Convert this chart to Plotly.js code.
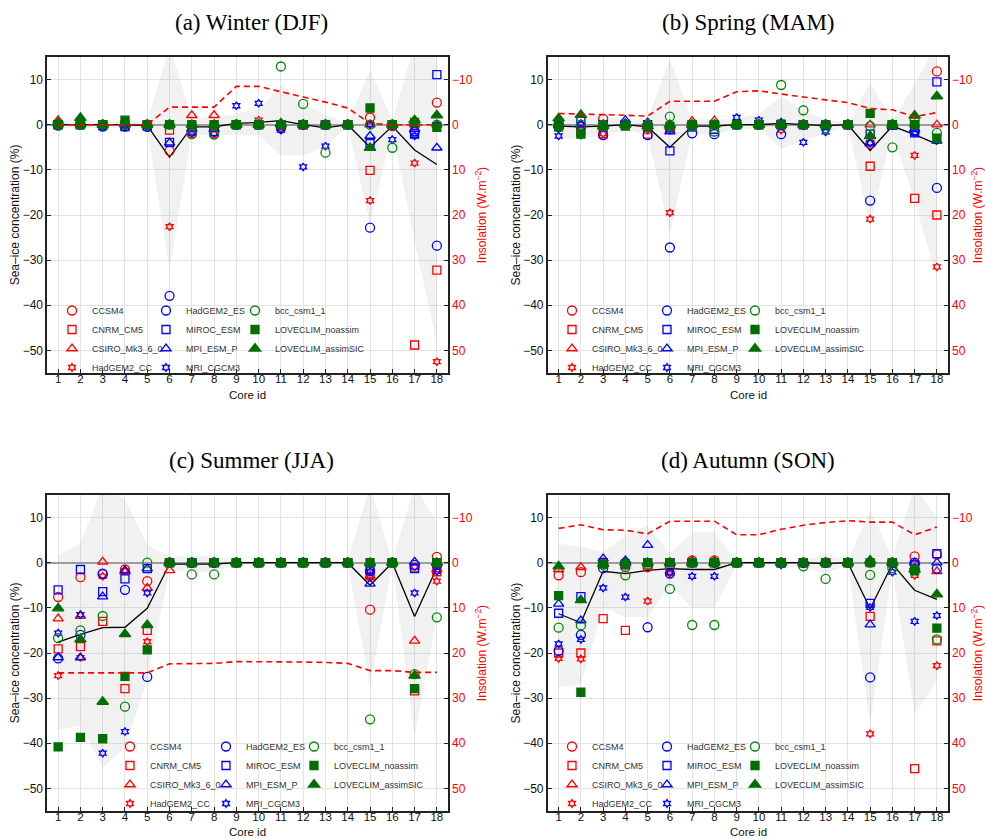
<!DOCTYPE html>
<html><head><meta charset="utf-8">
<script src="https://cdn.plot.ly/plotly-3.0.1.min.js"></script>
<style>html,body{margin:0;padding:0;background:#fff}#chart{width:985px;height:839px}</style>
</head><body><div id="chart"></div>
<script>
// ---------------- DATA ----------------
const coreIds = [1,2,3,4,5,6,7,8,9,10,11,12,13,14,15,16,17,18];
const modelNames = ["CCSM4","CNRM_CM5","CSIRO_Mk3_6_0","HadGEM2_CC","HadGEM2_ES","MIROC_ESM","MPI_ESM_P","MRI_CGCM3","bcc_csm1_1","LOVECLIM_noassim","LOVECLIM_assimSIC"];
const seasonTitles = ["(a) Winter (DJF)","(b) Spring (MAM)","(c) Summer (JJA)","(d) Autumn (SON)"];
const xTitle = "Core id";
const leftTicks = [-50,-40,-30,-20,-10,0,10];
const rightTicks = [-10,0,10,20,30,40,50];

// Winter (DJF) sea-ice concentration change (%)
const DJF_CCSM4      = [0,0,0,0,0,-5.8,-2,-2,0,0,0,0,0,0,1.6,-0.3,0,4.9];
const DJF_CNRM_CM5   = [0,0,0,0,0,-1.2,-0.5,-0.5,0,0,0,0,0,0,-10.1,0,-48.8,-32.2];
const DJF_CSIRO      = [1.0,0,0,0,0,0,2.1,2.1,0,0,0,0,0,0,0,0,0,0];
const DJF_HadGEM2_CC = [0,0,0,-0.3,0,-22.6,-2,-2,0,1.0,-0.8,0,0,0,-16.8,0,-8.5,-52.5];
const DJF_HadGEM2_ES = [-0.2,0,-0.4,-0.4,-0.5,-37.9,-1.5,-1.5,0,0,-0.8,0,0,0,-22.8,0,-1.5,-26.8];
const DJF_MIROC      = [0,0,-0.2,-0.4,-0.3,-3.9,-1.2,-1.5,0,0,0,0,0,0,-4.2,0,-2,11.1];
const DJF_MPI        = [0,0,0,0,0,-4,-1,-1,0,0,0,0,0,0,-2.5,0,-1,-5.1];
const DJF_MRI        = [0,0,0,-0.3,0,0,0,0,4.2,4.75,-1.2,-9.35,-4.75,0,0,-3.3,-2.5,0];
const DJF_bcc        = [0,0,0,0,0,0,-2.1,-2.2,0,0,12.9,4.6,-6.2,0,0,-5.1,0.5,0];
const DJF_LOVE_no    = [0,0,0,1.0,0,0,0,0,0,0,0,0,0,0,3.7,0,0.5,-0.6];
const DJF_LOVE_as    = [0.5,1.5,0,0.3,0,0,0,0,0,0,0.3,0,0,0,-5.1,0,1.0,2.1];
const DJF_mean       = [0,0,0,0,-0.2,-7.2,-0.5,-0.5,0.3,0.5,0.9,0,-0.7,0,-5,-0.3,-5.6,-8.8];
const DJF_upper      = [0.8,1.2,0.5,1,0.5,17.6,1.5,1.5,2.5,3.3,8.8,5,2.2,0.3,12,1,18,19];
const DJF_lower      = [-0.8,-0.8,-0.7,-0.8,-0.8,-32,-2.2,-2.3,-2.2,-2.3,-6.8,-6.8,-4.9,-0.3,-21.8,-1.5,-26,-48.3];
const DJF_insol      = [0,0,0,0,0,-3.9,-3.9,-3.9,-8.5,-8.5,-7.3,-6.2,-5,-3.7,-0.3,0,0,0];

// Spring (MAM)
const MAM_CCSM4      = [-0.5,-0.5,1.3,0,-1,-1,0,0,0,0,0,0,0,0,-4.2,0,0,11.8];
const MAM_CNRM_CM5   = [0,-1.5,-2,0,-2.1,-1,0,0,0,0,0,0,0,0,-9.2,0,-16.3,-20];
const MAM_CSIRO      = [0.5,0,0,0,0,-0.5,0.8,0.9,0,0,0,0,0,0,0,0,0,0];
const MAM_HadGEM2_CC = [0,-1,-2,0,-1,-19.5,0,0,0,0,-1.2,0,0,0,-20.9,0,-6.8,-31.5];
const MAM_HadGEM2_ES = [-0.5,-0.3,-2.3,0,-2.3,-27.2,-1.9,-2.1,0,0,-2.1,0,0,0,-16.8,0,-1.5,-14];
const MAM_MIROC      = [0,0.8,0,0,0,-5.8,-0.5,-1,0,0,0,0,0,0,-2.1,0,-1.8,9.5];
const MAM_MPI        = [0,0,0,1.0,0.5,-1.5,0,0,0,0,0.3,0,0,0,-4.2,-0.5,-1,-3.6];
const MAM_MRI        = [-2.5,-2.3,-0.5,0.5,0,-1,0,0,1.6,1.0,0.6,-3.9,-1.6,0,-4,0,-1.8,-3.5];
const MAM_bcc        = [0,0,0,0,0,1.8,-0.5,-1.5,0,0,8.8,3.2,-0.8,0,-0.3,-5,1,-1.8];
const MAM_LOVE_no    = [-0.5,-2.1,-0.3,-0.3,-0.5,-0.3,0,0,0,0,0,0,0,0,2.5,0,0,-3];
const MAM_LOVE_as    = [1.4,2.2,-0.3,0,-0.3,0,0,0,0,0,0,0,0,0,-2.5,0,2.0,6.3];
const MAM_mean       = [-0.3,-0.5,-0.3,0,-0.5,-5,-0.3,-0.3,0,0,0.3,0,-0.2,0,-5.7,-0.3,-2.2,-4.3];
const MAM_upper      = [1.5,2.5,1.8,1.2,1.2,14.5,1.2,1.2,1.2,2.5,6.2,3,1.2,0.3,9.2,1,9,18];
const MAM_lower      = [-3,-3,-2.5,-1,-2.5,-24,-2,-2.2,-0.8,-1,-5.3,-3.5,-1.8,-0.3,-22.5,-1.5,-17,-34];
const MAM_insol      = [-2.5,-2.4,-2.2,-2.1,-1.9,-5.2,-5.2,-5.2,-7.3,-7.5,-6.8,-6.1,-5.5,-4.9,-3.6,-3.3,-1.8,-2.7];

// Summer (JJA)
const JJA_CCSM4      = [-7.6,-3.2,-2.6,-1.5,-4.1,0,0,0,0,0,0,0,0,0,-10.4,0,-1.1,1.3];
const JJA_CNRM_CM5   = [-19.1,-18.6,-13,-27.9,-15,0,0,0,0,0,0,0,0,0,-2.5,0,-28.4,-2];
const JJA_CSIRO      = [-12.4,-11.8,0.2,-2,-5.6,-1.7,0,0,0,0,0,0,0,0,-3,0,-17.3,-1.5];
const JJA_HadGEM2_CC = [-25,-21,-3,-1.8,-17.5,0,0,0,0,0,0,0,0,0,-3.3,0,-1,-4.1];
const JJA_HadGEM2_ES = [-21.2,-16,-2.4,-6,-25.3,0,0,0,0,0,0,0,0,0,-1.9,0,-0.5,-0.5];
const JJA_MIROC      = [-6,-1.5,-6.4,-3.6,-1.3,0,0,0,0,0,0,0,0,0,-1.5,0,-1.3,0];
const JJA_MPI        = [-21,-21,-7.5,-1.7,-1.3,0,0,0,0,0,0,0,0,0,-4.7,0,0.2,0];
const JJA_MRI        = [-15.6,-11.5,-42.2,-37.4,-6.7,0,0,0,0,0,0,0,0,0,-1.9,0,-6.7,-1.9];
const JJA_bcc        = [-16.7,-15,-11.8,-31.9,0,0,-2.6,-2.6,0,0,0,0,0,0,-34.7,0,-24.7,-12.1];
const JJA_LOVE_no    = [-40.8,-38.7,-39,-25.2,-19.3,0,0,0,0,0,0,0,0,0,0,0,-27.9,0];
const JJA_LOVE_as    = [-10.1,-17,-30.8,-15.8,-13.8,0,0,0,0,0,0,0,0,0,0,0,-25,0];
const JJA_mean       = [-17.6,-15.9,-14.4,-14.3,-10.1,-0.3,-0.3,-0.3,0,0,0,0,0,0,-5,0,-11.9,-1.1];
const JJA_upper      = [1.6,4.2,17,14,4,1.3,1.5,1.5,0.3,0.3,0.3,0.3,0.3,0.3,17,0.3,17,9];
const JJA_lower      = [-37,-36,-45.4,-41,-26,-1.8,-2,-2,-0.3,-0.3,-0.3,-0.3,-0.3,-0.3,-27.5,-0.3,-38.5,-12];
const JJA_insol      = [24.4,24.4,24.4,24.4,24.4,22.4,22.4,22.3,21.9,21.9,22,22,22.1,22.3,23.9,23.9,24.3,24.3];

// Autumn (SON)
const SON_CCSM4      = [-2.8,-2.1,0,-1,-1,-1,0.5,0.5,0,0,0,0,0,0,0,0,1.4,1.8];
const SON_CNRM_CM5   = [-20,-20,-12.4,-15,-0.5,0,0,0,0,0,0,0,0,0,-11.9,0,-45.6,-17.3];
const SON_CSIRO      = [-1.5,-1,0,0,0,0,0.5,0.5,0,0,0,0,0,0,0,0,-1,-1.9];
const SON_HadGEM2_CC = [-21.2,-21.3,0,0,-8.5,-2.4,0,0,0,0,0,0,0,0,-37.9,0,-2.8,-22.8];
const SON_HadGEM2_ES = [-19.5,-16,-1.2,0,-14.3,-2.4,0,0,0,0,0,0,0,0,-25.4,0,0,-1.3];
const SON_MIROC      = [-11.2,-7.5,0,-0.5,0,0,0,0,0,0,0,0,0,0,-9,0,-0.5,2];
const SON_MPI        = [-9.1,-12.8,0.9,0.5,3.9,0,0,0,0,0,0,0,0,0,-13.7,0,0,0];
const SON_MRI        = [-18,-17,-5.6,-7.6,0,-2.1,-3,-3,0,0,-0.5,-0.3,0,0,-9.9,-2.1,-13,-11.7];
const SON_bcc        = [-14.4,-13.9,-0.5,-2.8,-0.5,-5.8,-13.8,-13.8,0,0,0,-0.8,-3.6,0,-2.7,-1.2,-1.5,-17];
const SON_LOVE_no    = [-7.3,-28.7,-0.3,-0.3,0,0,0,0,0,0,0,0,0,0,0,0,-1.8,-14.5];
const SON_LOVE_as    = [-0.8,-8.3,-0.3,0,0,0,0,0,0,0,0,0,0,0,0.5,0,-1.5,-7];
const SON_mean       = [-11.3,-13.3,-1.9,-2.4,-1.7,-1.3,-1.5,-1.5,0,0,0,0,-0.2,0,-10.2,-0.3,-6.1,-8.1];
const SON_upper      = [4.2,3.6,2.5,6,8.3,2,6.8,6.8,0.5,0.3,0.5,0.5,2,0.3,11.6,1,17,10];
const SON_lower      = [-27.6,-27,-10,-12,-12,-5,-10,-10,-0.5,-0.3,-0.8,-1,-2.5,-0.3,-35.8,-1.5,-33.5,-26];
const SON_insol      = [-7.6,-8.4,-7.3,-7.2,-6.4,-9.2,-9.2,-9.2,-6.2,-6.2,-7.4,-8.3,-8.9,-9.3,-9,-9,-6.2,-7.9];

// ---------------- BUILD ----------------
const seasons = [
  {models:[DJF_CCSM4,DJF_CNRM_CM5,DJF_CSIRO,DJF_HadGEM2_CC,DJF_HadGEM2_ES,DJF_MIROC,DJF_MPI,DJF_MRI,DJF_bcc,DJF_LOVE_no,DJF_LOVE_as], mean:DJF_mean, up:DJF_upper, lo:DJF_lower, ins:DJF_insol},
  {models:[MAM_CCSM4,MAM_CNRM_CM5,MAM_CSIRO,MAM_HadGEM2_CC,MAM_HadGEM2_ES,MAM_MIROC,MAM_MPI,MAM_MRI,MAM_bcc,MAM_LOVE_no,MAM_LOVE_as], mean:MAM_mean, up:MAM_upper, lo:MAM_lower, ins:MAM_insol},
  {models:[JJA_CCSM4,JJA_CNRM_CM5,JJA_CSIRO,JJA_HadGEM2_CC,JJA_HadGEM2_ES,JJA_MIROC,JJA_MPI,JJA_MRI,JJA_bcc,JJA_LOVE_no,JJA_LOVE_as], mean:JJA_mean, up:JJA_upper, lo:JJA_lower, ins:JJA_insol},
  {models:[SON_CCSM4,SON_CNRM_CM5,SON_CSIRO,SON_HadGEM2_CC,SON_HadGEM2_ES,SON_MIROC,SON_MPI,SON_MRI,SON_bcc,SON_LOVE_no,SON_LOVE_as], mean:SON_mean, up:SON_upper, lo:SON_lower, ins:SON_insol}
];

const RED='#ff0000', BLUE='#0000ff', GREEN='#008a00', DGREEN='#006e00';
const styles = [
  {symbol:'circle-open', color:RED, size:9},
  {symbol:'square-open', color:RED, size:8},
  {symbol:'triangle-up-open', color:RED, size:9},
  {symbol:'hexagram-open', color:RED, size:6},
  {symbol:'circle-open', color:BLUE, size:9},
  {symbol:'square-open', color:BLUE, size:8},
  {symbol:'triangle-up-open', color:BLUE, size:9},
  {symbol:'hexagram-open', color:BLUE, size:6},
  {symbol:'circle-open', color:GREEN, size:9},
  {symbol:'square', color:DGREEN, size:8},
  {symbol:'triangle-up', color:DGREEN, size:10}
];

// layout geometry (px)
const W=985, H=839, ML=47, MR=37, MT=57, MB=28;
const PW=W-ML-MR, PH=H-MT-MB;
const px2x = p => (p-ML)/PW;
const py2y = p => (H-MB-p)/PH;
const xDomains = [[0,px2x(448)],[px2x(547.5),1],[0,px2x(448)],[px2x(547.5),1]];
const yDomains = [[py2y(373),1],[py2y(373),1],[0,py2y(495)],[0,py2y(495)]];
const legendCols = [[76,170,259],[576,671,759],[134,230,318],[576,671,759]];
const legendTop = [296,296,732,732];
const titleCenters = [[251,22],[748,22],[251,460],[748,460]];
const xTitleCenters = [[247,395],[748,395],[247,832],[748,832]];

const traces=[]; const layout={
  width:W, height:H, margin:{l:ML,r:MR,t:MT,b:MB}, paper_bgcolor:'#fff', plot_bgcolor:'#fff',
  font:{family:'Liberation Sans, Arial, sans-serif', size:12, color:'#111'},
  showlegend:true, annotations:[]
};
const sfx = i => (i===0?'':String(i+1));

for(let p=0;p<4;p++){
  const s=seasons[p];
  const xa='x'+sfx(p), ya='y'+sfx(p), yr='y'+(p+5);
  traces.push({x:coreIds.concat(coreIds.slice().reverse()), y:s.up.concat(s.lo.slice().reverse()),
    xaxis:xa, yaxis:ya, mode:'lines', fill:'toself', fillcolor:'rgba(170,170,170,0.16)',
    line:{width:0,color:'rgba(0,0,0,0)'}, showlegend:false, hoverinfo:'skip'});
  traces.push({x:coreIds, y:s.mean, xaxis:xa, yaxis:ya, mode:'lines', line:{color:'#000',width:1.3}, showlegend:false});
  for(let m=0;m<11;m++){
    const st=styles[m]; const col = m<4?0:(m<8?1:2);
    const lg='legend'+sfx(p*3+col);
    traces.push({x:coreIds, y:s.models[m], xaxis:xa, yaxis:ya, mode:'markers', name:modelNames[m],
      legend:lg, marker:{symbol:st.symbol, size:st.size, color:st.color, line:{color:st.color,width:1.3}}});
  }
  traces.push({x:coreIds, y:s.ins, xaxis:xa, yaxis:yr, mode:'lines', line:{color:RED,width:1.6,dash:'6px,4px'}, showlegend:false});

  const axLine = {showline:true, linecolor:'#222', linewidth:1.6};
  layout['xaxis'+sfx(p)] = Object.assign({domain:xDomains[p], anchor:ya, range:[0.5,18.5], tickmode:'array', tickvals:coreIds,
    ticks:'inside', ticklen:4, tickcolor:'#222', mirror:true, showgrid:true, gridcolor:'#e3e3e3', gridwidth:1, zeroline:false,
    ticklabelstandoff:-5, tickfont:{size:11.5,color:'#111'}}, axLine);
  layout['yaxis'+sfx(p)] = Object.assign({domain:yDomains[p], anchor:xa, range:[-55,15], tickmode:'array', tickvals:leftTicks,
    ticks:'inside', ticklen:4, tickcolor:'#222', showgrid:true, gridcolor:'#e3e3e3', gridwidth:1,
    zeroline:true, zerolinecolor:'#9a9a9a', zerolinewidth:1.6,
    tickfont:{size:12,color:'#111'}, title:{text:'Sea–ice concentration (%)', font:{size:12,color:'#111'}, standoff:0}}, axLine);
  layout['yaxis'+(p+5)] = Object.assign({overlaying:ya, side:'right', anchor:xa, range:[55,-15], tickmode:'array', tickvals:rightTicks,
    ticks:'inside', ticklen:4, tickcolor:'#222', showgrid:false, zeroline:false,
    tickfont:{size:12,color:RED}, title:{text:'Insolation (W.m<sup>−2</sup>)', font:{size:12,color:RED}, standoff:6}}, axLine);

  for(let c=0;c<3;c++){
    layout['legend'+sfx(p*3+c)] = {x:px2x(legendCols[p][c]-24), y:py2y(legendTop[p]), xanchor:'left', yanchor:'top',
      bgcolor:'rgba(0,0,0,0)', borderwidth:0, tracegroupgap:0,
      font:{family:'Liberation Sans, Arial, sans-serif', size:9, color:'#333'}};
  }
  layout.annotations.push({text:seasonTitles[p], xref:'paper', yref:'paper', x:px2x(titleCenters[p][0]), y:py2y(titleCenters[p][1]),
    xanchor:'center', yanchor:'middle', showarrow:false, font:{family:'Liberation Serif, Times New Roman, serif', size:23, color:'#000'}});
  layout.annotations.push({text:xTitle, xref:'paper', yref:'paper', x:px2x(xTitleCenters[p][0]), y:py2y(xTitleCenters[p][1]),
    xanchor:'center', yanchor:'middle', showarrow:false, borderpad:0, font:{size:11.5, color:'#111'}});
}

Plotly.newPlot('chart', traces, layout, {staticPlot:true});
</script></body></html>
